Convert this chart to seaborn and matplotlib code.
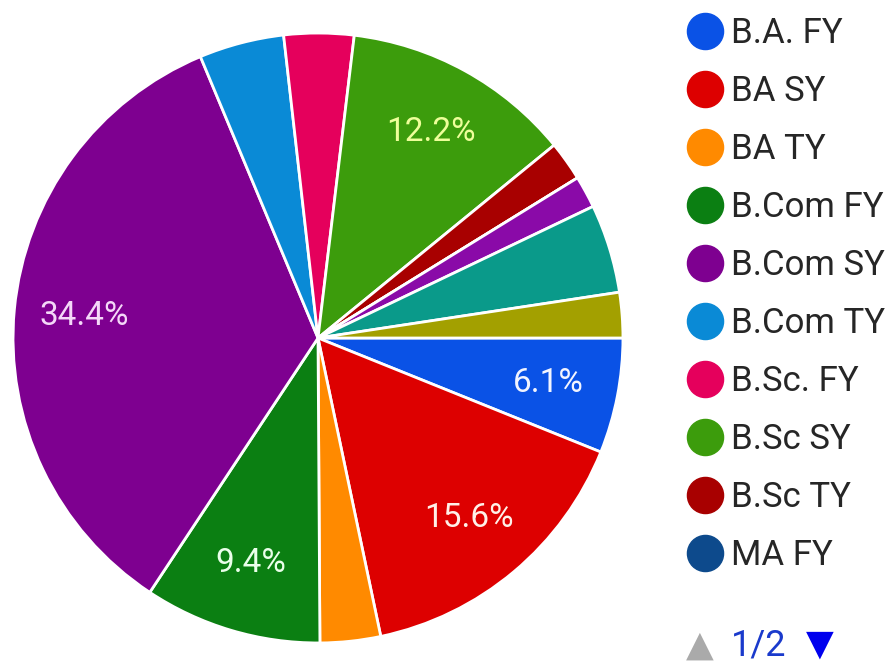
import matplotlib.pyplot as plt
from matplotlib.lines import Line2D
import seaborn as sns

# slices in drawing order (clockwise from 3 o'clock)
classes = ["B.A. FY", "BA SY", "BA TY", "B.Com FY", "B.Com SY", "B.Com TY",
           "B.Sc. FY", "B.Sc SY", "B.Sc TY", "MA FY", "MA SY", "M.Com FY", "M.Com SY"]
shares = [6.1, 15.6, 3.2, 9.4, 34.4, 4.5, 3.7, 12.2, 2.1, 0.0, 1.7, 4.7, 2.4]
colors = ["#0a52e6", "#dd0000", "#ff8a00", "#0b7f12", "#7e0090", "#0a8ad6",
          "#e5005c", "#3c9c0c", "#a80000", "#0d4a8c", "#8a0aa8", "#0a9a8a", "#a3a000"]
label_colors = {"B.A. FY": "#f2f4ff", "BA SY": "#fff0e8", "B.Com FY": "#eaffea",
                "B.Com SY": "#f4d8f8", "B.Sc SY": "#eeff9a"}
legend_items = classes[:10]

sns.set_theme(style="white")
plt.rcParams['font.family'] = ['Roboto', 'DejaVu Sans']

fig = plt.figure(figsize=(8.92, 6.65), dpi=100)
ax = fig.add_axes([10 / 892, 19 / 665, 616 / 892, 616 / 665])

pal = sns.color_palette(colors)
wedges, texts, autotexts = ax.pie(
    shares, colors=pal, startangle=0, counterclock=False,
    autopct=lambda p: f"{p:.1f}%" if p > 5 else "", pctdistance=0.77,
    wedgeprops=dict(edgecolor="white", linewidth=2),
    textprops=dict(fontsize=24))
for name, t in zip(classes, autotexts):
    t.set_color(label_colors.get(name, "white"))
ax.set_aspect("equal")
ax.set_xlim(-1.01, 1.01)
ax.set_ylim(-1.01, 1.01)
ax.axis("off")

handles = [Line2D([0], [0], marker="o", linestyle="", markersize=26,
                  markerfacecolor=c, markeredgecolor=c) for c in colors[:10]]
fig.legend(handles, legend_items, loc="upper left", bbox_to_anchor=(670 / 892, 1 - 3 / 665),
           frameon=False, fontsize=25, labelspacing=0.72, handletextpad=0.15,
           handlelength=1.2, borderaxespad=0)

fig.text(700 / 892, 1 - 646 / 665, "▲", color="#aaaaaa", fontsize=26,
         ha="center", va="center", family="DejaVu Sans")
fig.text(759 / 892, 1 - 645 / 665, "1/2", color="#1a3acc", fontsize=26,
         ha="center", va="center")
fig.text(820 / 892, 1 - 645 / 665, "▼", color="#0000ee", fontsize=26,
         ha="center", va="center", family="DejaVu Sans")

fig.savefig("out.png", dpi=100, facecolor="white")
